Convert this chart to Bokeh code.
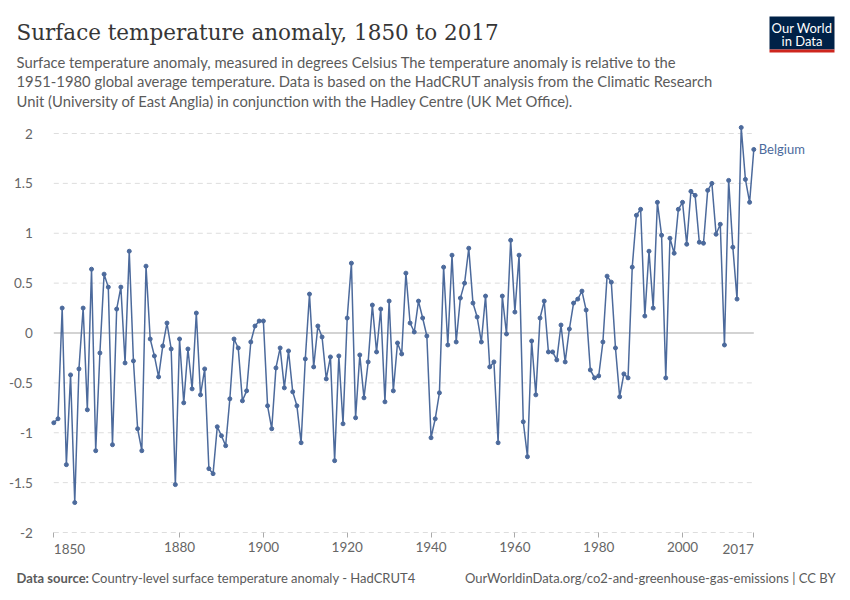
from bokeh.plotting import figure
from bokeh.models import Label, FixedTicker, BoxAnnotation, LinearAxis, Range1d
from bokeh.embed import file_html
from bokeh.resources import INLINE

years = list(range(1850, 2018))
anomaly = [
    -0.90, -0.86, 0.25, -1.32, -0.42, -1.70, -0.36, 0.25, -0.77, 0.64,   # 1850s
    -1.18, -0.20, 0.59, 0.46, -1.12, 0.24, 0.46, -0.30, 0.82, -0.28,     # 1860s
    -0.96, -1.18, 0.67, -0.06, -0.23, -0.44, -0.13, 0.10, -0.16, -1.52,  # 1870s
    -0.06, -0.70, -0.16, -0.56, 0.20, -0.62, -0.36, -1.36, -1.41, -0.94, # 1880s
    -1.03, -1.13, -0.66, -0.06, -0.15, -0.68, -0.58, -0.09, 0.07, 0.12,  # 1890s
    0.12, -0.73, -0.96, -0.35, -0.15, -0.55, -0.18, -0.59, -0.73, -1.10, # 1900s
    -0.26, 0.39, -0.34, 0.07, -0.04, -0.46, -0.24, -1.28, -0.23, -0.91,  # 1910s
    0.15, 0.70, -0.85, -0.22, -0.65, -0.29, 0.28, -0.19, 0.24, -0.69,    # 1920s
    0.32, -0.58, -0.10, -0.21, 0.60, 0.10, 0.01, 0.32, 0.15, -0.03,      # 1930s
    -1.05, -0.86, -0.60, 0.66, -0.12, 0.78, -0.09, 0.35, 0.50, 0.85,     # 1940s
    0.30, 0.16, -0.09, 0.37, -0.34, -0.29, -1.10, 0.37, -0.01, 0.93,     # 1950s
    0.21, 0.78, -0.89, -1.24, -0.08, -0.62, 0.15, 0.32, -0.19, -0.19,    # 1960s
    -0.27, 0.08, -0.29, 0.04, 0.30, 0.34, 0.42, 0.23, -0.37, -0.45,      # 1970s
    -0.43, -0.09, 0.57, 0.51, -0.15, -0.64, -0.41, -0.45, 0.66, 1.18,    # 1980s
    1.24, 0.17, 0.82, 0.25, 1.31, 0.98, -0.45, 0.95, 0.80, 1.24,         # 1990s
    1.31, 0.89, 1.42, 1.38, 0.91, 0.90, 1.43, 1.50, 0.99, 1.09,          # 2000s
    -0.12, 1.53, 0.86, 0.34, 2.06, 1.54, 1.31, 1.84,                     # 2010s
]
assert len(years) == len(anomaly)

x_ticks = [1850, 1880, 1900, 1920, 1940, 1960, 1980, 2000, 2017]
y_ticks = [-2, -1.5, -1, -0.5, 0, 0.5, 1, 1.5, 2]
y_tick_labels = {-2: "-2", -1.5: "-1.5", -1: "-1", -0.5: "-0.5", 0: "0",
                 0.5: "0.5", 1: "1", 1.5: "1.5", 2: "2"}
series_name = "Belgium"
title_text = "Surface temperature anomaly, 1850 to 2017"
subtitle_lines = [
    "Surface temperature anomaly, measured in degrees Celsius The temperature anomaly is relative to the",
    "1951-1980 global average temperature. Data is based on the HadCRUT analysis from the Climatic Research",
    "Unit (University of East Anglia) in conjunction with the Hadley Centre (UK Met Office).",
]
source_label = "Data source:"
source_text = "Country-level surface temperature anomaly - HadCRUT4"
url_text = "OurWorldinData.org/co2-and-greenhouse-gas-emissions | CC BY"

W, H = 850, 600
FL, FR, FT, FB = 53.3, 753.3, 133.0, 532.0   # pixel box of the data area
X0, X1 = 1850, 2017
Y0, Y1 = -2, 2
SX = (FR - FL) / (X1 - X0)
SY = (FB - FT) / (Y1 - Y0)

def px_x(px):
    return X0 + (px - FL) / SX

def px_y(py):
    return Y1 - (py - FT) / SY

p = figure(width=W, height=H,
           x_range=Range1d(px_x(0), px_x(W)), y_range=Range1d(px_y(H), px_y(0)),
           output_backend="svg", toolbar_location=None,
           x_axis_location=None, y_axis_location=None,
           min_border_left=0, min_border_right=0, min_border_top=0, min_border_bottom=0)
p.outline_line_color = None
p.background_fill_color = "white"
p.border_fill_color = "white"
p.xgrid.grid_line_color = None
p.ygrid.grid_line_color = None

# axes fixed at the edges of the data area
xaxis = LinearAxis(ticker=FixedTicker(ticks=x_ticks), fixed_location=Y0)
xaxis.major_label_overrides = {1850: "", 2017: ""}
xaxis.axis_line_color = None
xaxis.major_tick_line_color = "#aaaaaa"
xaxis.major_tick_out = 5
xaxis.major_tick_in = 0
xaxis.minor_tick_line_color = None
xaxis.major_label_text_font = "Lato"
xaxis.major_label_text_font_size = "13.5px"
xaxis.major_label_text_color = "#666666"
xaxis.major_label_standoff = 4
p.add_layout(xaxis, "below")

yaxis = LinearAxis(ticker=FixedTicker(ticks=y_ticks), fixed_location=X0)
yaxis.major_label_overrides = y_tick_labels
yaxis.axis_line_color = None
yaxis.major_tick_line_color = None
yaxis.minor_tick_line_color = None
yaxis.major_label_text_font = "Lato"
yaxis.major_label_text_font_size = "13.5px"
yaxis.major_label_text_color = "#666666"
yaxis.major_label_standoff = 15
p.add_layout(yaxis, "left")

# grid lines across the data area
grid_y = [t for t in y_ticks if t != 0]
p.segment(x0=[X0] * len(grid_y), y0=grid_y, x1=[X1] * len(grid_y), y1=grid_y,
          line_color="#dddddd", line_dash="5 4", line_width=1)
p.segment(x0=[X0], y0=[0], x1=[X1], y1=[0], line_color="#a8a8a8", line_width=1.2)

# series
line_color = "#4C6A9C"
p.line(years, anomaly, line_color=line_color, line_width=1.5)
p.scatter(years, anomaly, size=4, fill_color=line_color, line_color=line_color)

p.add_layout(Label(x=years[-1], y=anomaly[-1], x_offset=5, text=series_name,
                   text_font="Lato", text_font_size="13px", text_color=line_color,
                   text_align="left", text_baseline="middle"))

# edge tick labels (aligned to the data area edges as in the original)
for yr, al in ((1850, "left"), (2017, "right")):
    p.add_layout(Label(x=yr, y=px_y(548), text=str(yr), text_font="Lato",
                       text_font_size="13.5px", text_color="#666666",
                       text_align=al, text_baseline="middle"))

# title and subtitle
p.add_layout(Label(x=px_x(16), y=px_y(32), text=title_text,
                   text_font="DejaVu Serif", text_font_size="21.5px", text_color="#363636",
                   text_align="left", text_baseline="middle"))
for i, ln in enumerate(subtitle_lines):
    p.add_layout(Label(x=px_x(16), y=px_y(61 + i * 19.5), text=ln,
                       text_font="Lato", text_font_size="14.8px", text_color="#5b5b5b",
                       text_align="left", text_baseline="middle"))

# footer
p.add_layout(Label(x=px_x(16), y=px_y(577), text=source_label, text_font="Lato",
                   text_font_size="13px", text_font_style="bold", text_color="#5b5b5b",
                   text_align="left", text_baseline="middle"))
p.add_layout(Label(x=px_x(91), y=px_y(577), text=source_text, text_font="Lato",
                   text_font_size="13px", text_color="#5b5b5b",
                   text_align="left", text_baseline="middle"))
p.add_layout(Label(x=px_x(835), y=px_y(577), text=url_text, text_font="Lato",
                   text_font_size="13px", text_color="#5b5b5b",
                   text_align="right", text_baseline="middle"))

# logo
p.add_layout(BoxAnnotation(left=px_x(769), right=px_x(834), top=px_y(16), bottom=px_y(49),
                           fill_color="#002147", fill_alpha=1, line_color=None))
p.add_layout(BoxAnnotation(left=px_x(769), right=px_x(834), top=px_y(49), bottom=px_y(52),
                           fill_color="#CE261E", fill_alpha=1, line_color=None))
for txt, yy in (("Our World", 27), ("in Data", 40)):
    p.add_layout(Label(x=px_x(801.5), y=px_y(yy), text=txt, text_font="Lato",
                       text_font_size="13px", text_color="white",
                       text_align="center", text_baseline="middle"))

open("out.html", "w").write(file_html(p, INLINE))
